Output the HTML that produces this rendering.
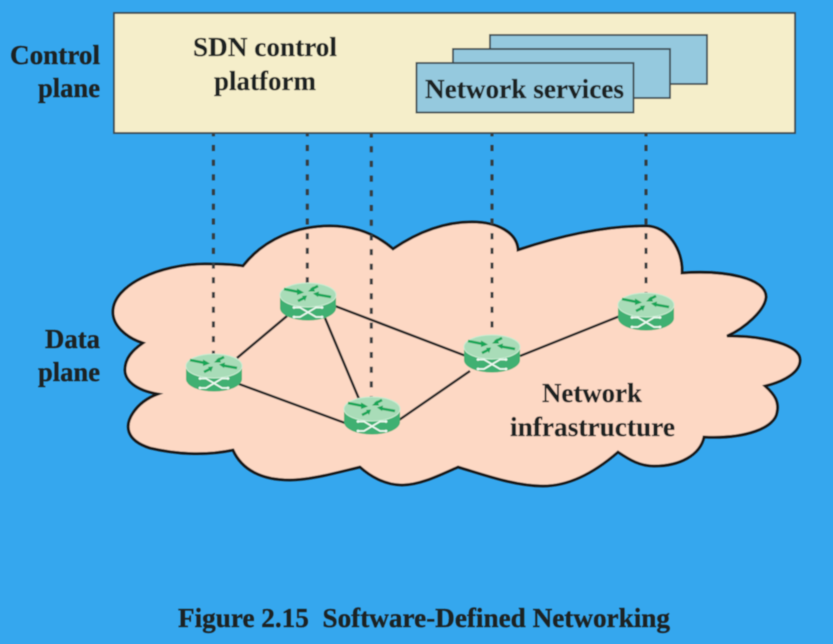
<!DOCTYPE html>
<html>
<head>
<meta charset="utf-8">
<style>
html,body{margin:0;padding:0;background:#35a7ee;}
svg{display:block;}
text{font-family:"Liberation Serif",serif;font-weight:bold;fill:#1f2020;font-size:27.5px;stroke:#1f2020;stroke-width:0.25px;}
</style>
</head>
<body>
<svg width="833" height="644" viewBox="0 0 833 644" xmlns="http://www.w3.org/2000/svg">
<defs>
<filter id="b" x="-5%" y="-5%" width="110%" height="110%"><feGaussianBlur stdDeviation="0.5"/></filter>
<g id="r">
  <path d="M-28 0V13A28 12.5 0 0 0 28 13V0Z" fill="#40b072"/>
  <ellipse cx="0" cy="0" rx="28" ry="12" fill="#a9dcb8" stroke="#c9ecd2" stroke-width="1"/>
  <g fill="none" stroke="#16a557" stroke-width="2.6">
    <path d="M-24 -6L-9 -3"/>
    <path d="M3 -5.5L10 -9"/>
    <path d="M-10 6L-4 3"/>
    <path d="M9 -0.5L23 2"/>
  </g>
  <g fill="#16a557">
    <path d="M-11 -6.5L-4 -2.5L-11 0Z"/>
    <path d="M0 -3.5L5 -8.5L7 -3.5Z"/>
    <path d="M-1 0.5L-6 1L-3 6Z"/>
    <path d="M5 -1.5L11 -3.5L10 2Z"/>
  </g>
  <g fill="none" stroke="#eef9f1" stroke-width="1.7">
    <path d="M-13 12.5H-8L8 22H13"/>
    <path d="M-13 22H-8L8 12.5H13"/>
  </g>
  <g fill="#eef9f1">
    <circle cx="-14" cy="12.5" r="1.4"/><circle cx="14" cy="12.5" r="1.4"/>
    <circle cx="-14" cy="22" r="1.4"/><circle cx="14" cy="22" r="1.4"/>
  </g>
</g>
</defs>
<rect width="833" height="644" fill="#35a7ee"/>
<g filter="url(#b)">
<path d="M243 266C265 238 298 226 330 226C356 226 377 235 393 249C418 232 445 222 472 222C498 222 517 233 518 250C560 236 605 226 646 226C668 226 683 250 682 273C725 270 766 278 766 297C765 310 745 328 727 336C765 336 800 345 800 360C800 372 785 381 765 386C775 395 779 402 777 412C775 428 745 439 704 437C700 455 680 466 654 466C640 466 630 460 618 452C595 472 570 486 543 486C515 486 485 475 458 467C440 475 420 485 402 485C385 485 370 476 360 467C335 473 310 480 290 480C262 480 242 470 233 450C205 456 175 454 150 448C125 440 125 425 133 413C139 404 147 398 158 394C135 390 125 380 125 370C125 358 133 350 143 343C125 337 113 325 113 312C113 285 160 264 205 264C218 264 231 264 243 266Z" fill="#fdd8c4" stroke="#161616" stroke-width="2.8" stroke-linejoin="miter"/>
<g stroke="#353a3d" stroke-width="3" stroke-dasharray="6 8.7" fill="none">
  <path d="M213.4 130.3V354"/>
  <path d="M307.3 130.3V283"/>
  <path d="M371.3 131.5V397"/>
  <path d="M492 130.3V335"/>
  <path d="M646 130.3V293"/>
</g>
<g stroke="#262626" stroke-width="2.5" fill="none">
  <path d="M237 358L287 316"/>
  <path d="M239 384L345 423"/>
  <path d="M325 318L359 399"/>
  <path d="M335 306L466 356"/>
  <path d="M399 420L470 371"/>
  <path d="M520 356L620 316"/>
</g>
<rect x="114" y="13" width="681" height="120" fill="#f5eeca" stroke="#3c4a50" stroke-width="1.8"/>
<rect x="490" y="35" width="217" height="49" fill="#95c9de" stroke="#3c4a50" stroke-width="1.8"/>
<rect x="453" y="49" width="217" height="49" fill="#95c9de" stroke="#3c4a50" stroke-width="1.8"/>
<rect x="416.5" y="63" width="217" height="49.5" fill="#95c9de" stroke="#3c4a50" stroke-width="1.8"/>
<use href="#r" x="214" y="366"/>
<use href="#r" x="308" y="295"/>
<use href="#r" x="372" y="409"/>
<use href="#r" x="492" y="347"/>
<use href="#r" x="646" y="305"/>
<text x="193" y="56" textLength="144" lengthAdjust="spacingAndGlyphs">SDN control</text>
<text x="214" y="90" textLength="102" lengthAdjust="spacingAndGlyphs">platform</text>
<text x="425" y="98" textLength="199" lengthAdjust="spacingAndGlyphs">Network services</text>
<text x="10" y="64" textLength="90" lengthAdjust="spacingAndGlyphs">Control</text>
<text x="38" y="97" textLength="62" lengthAdjust="spacingAndGlyphs">plane</text>
<text x="45" y="348" textLength="55" lengthAdjust="spacingAndGlyphs">Data</text>
<text x="38" y="381" textLength="62" lengthAdjust="spacingAndGlyphs">plane</text>
<text x="542" y="402" textLength="100" lengthAdjust="spacingAndGlyphs">Network</text>
<text x="510" y="436" textLength="165" lengthAdjust="spacingAndGlyphs">infrastructure</text>
<text x="178" y="627" textLength="492" lengthAdjust="spacingAndGlyphs" xml:space="preserve">Figure 2.15  Software-Defined Networking</text>
</g>
</svg>
</body>
</html>
